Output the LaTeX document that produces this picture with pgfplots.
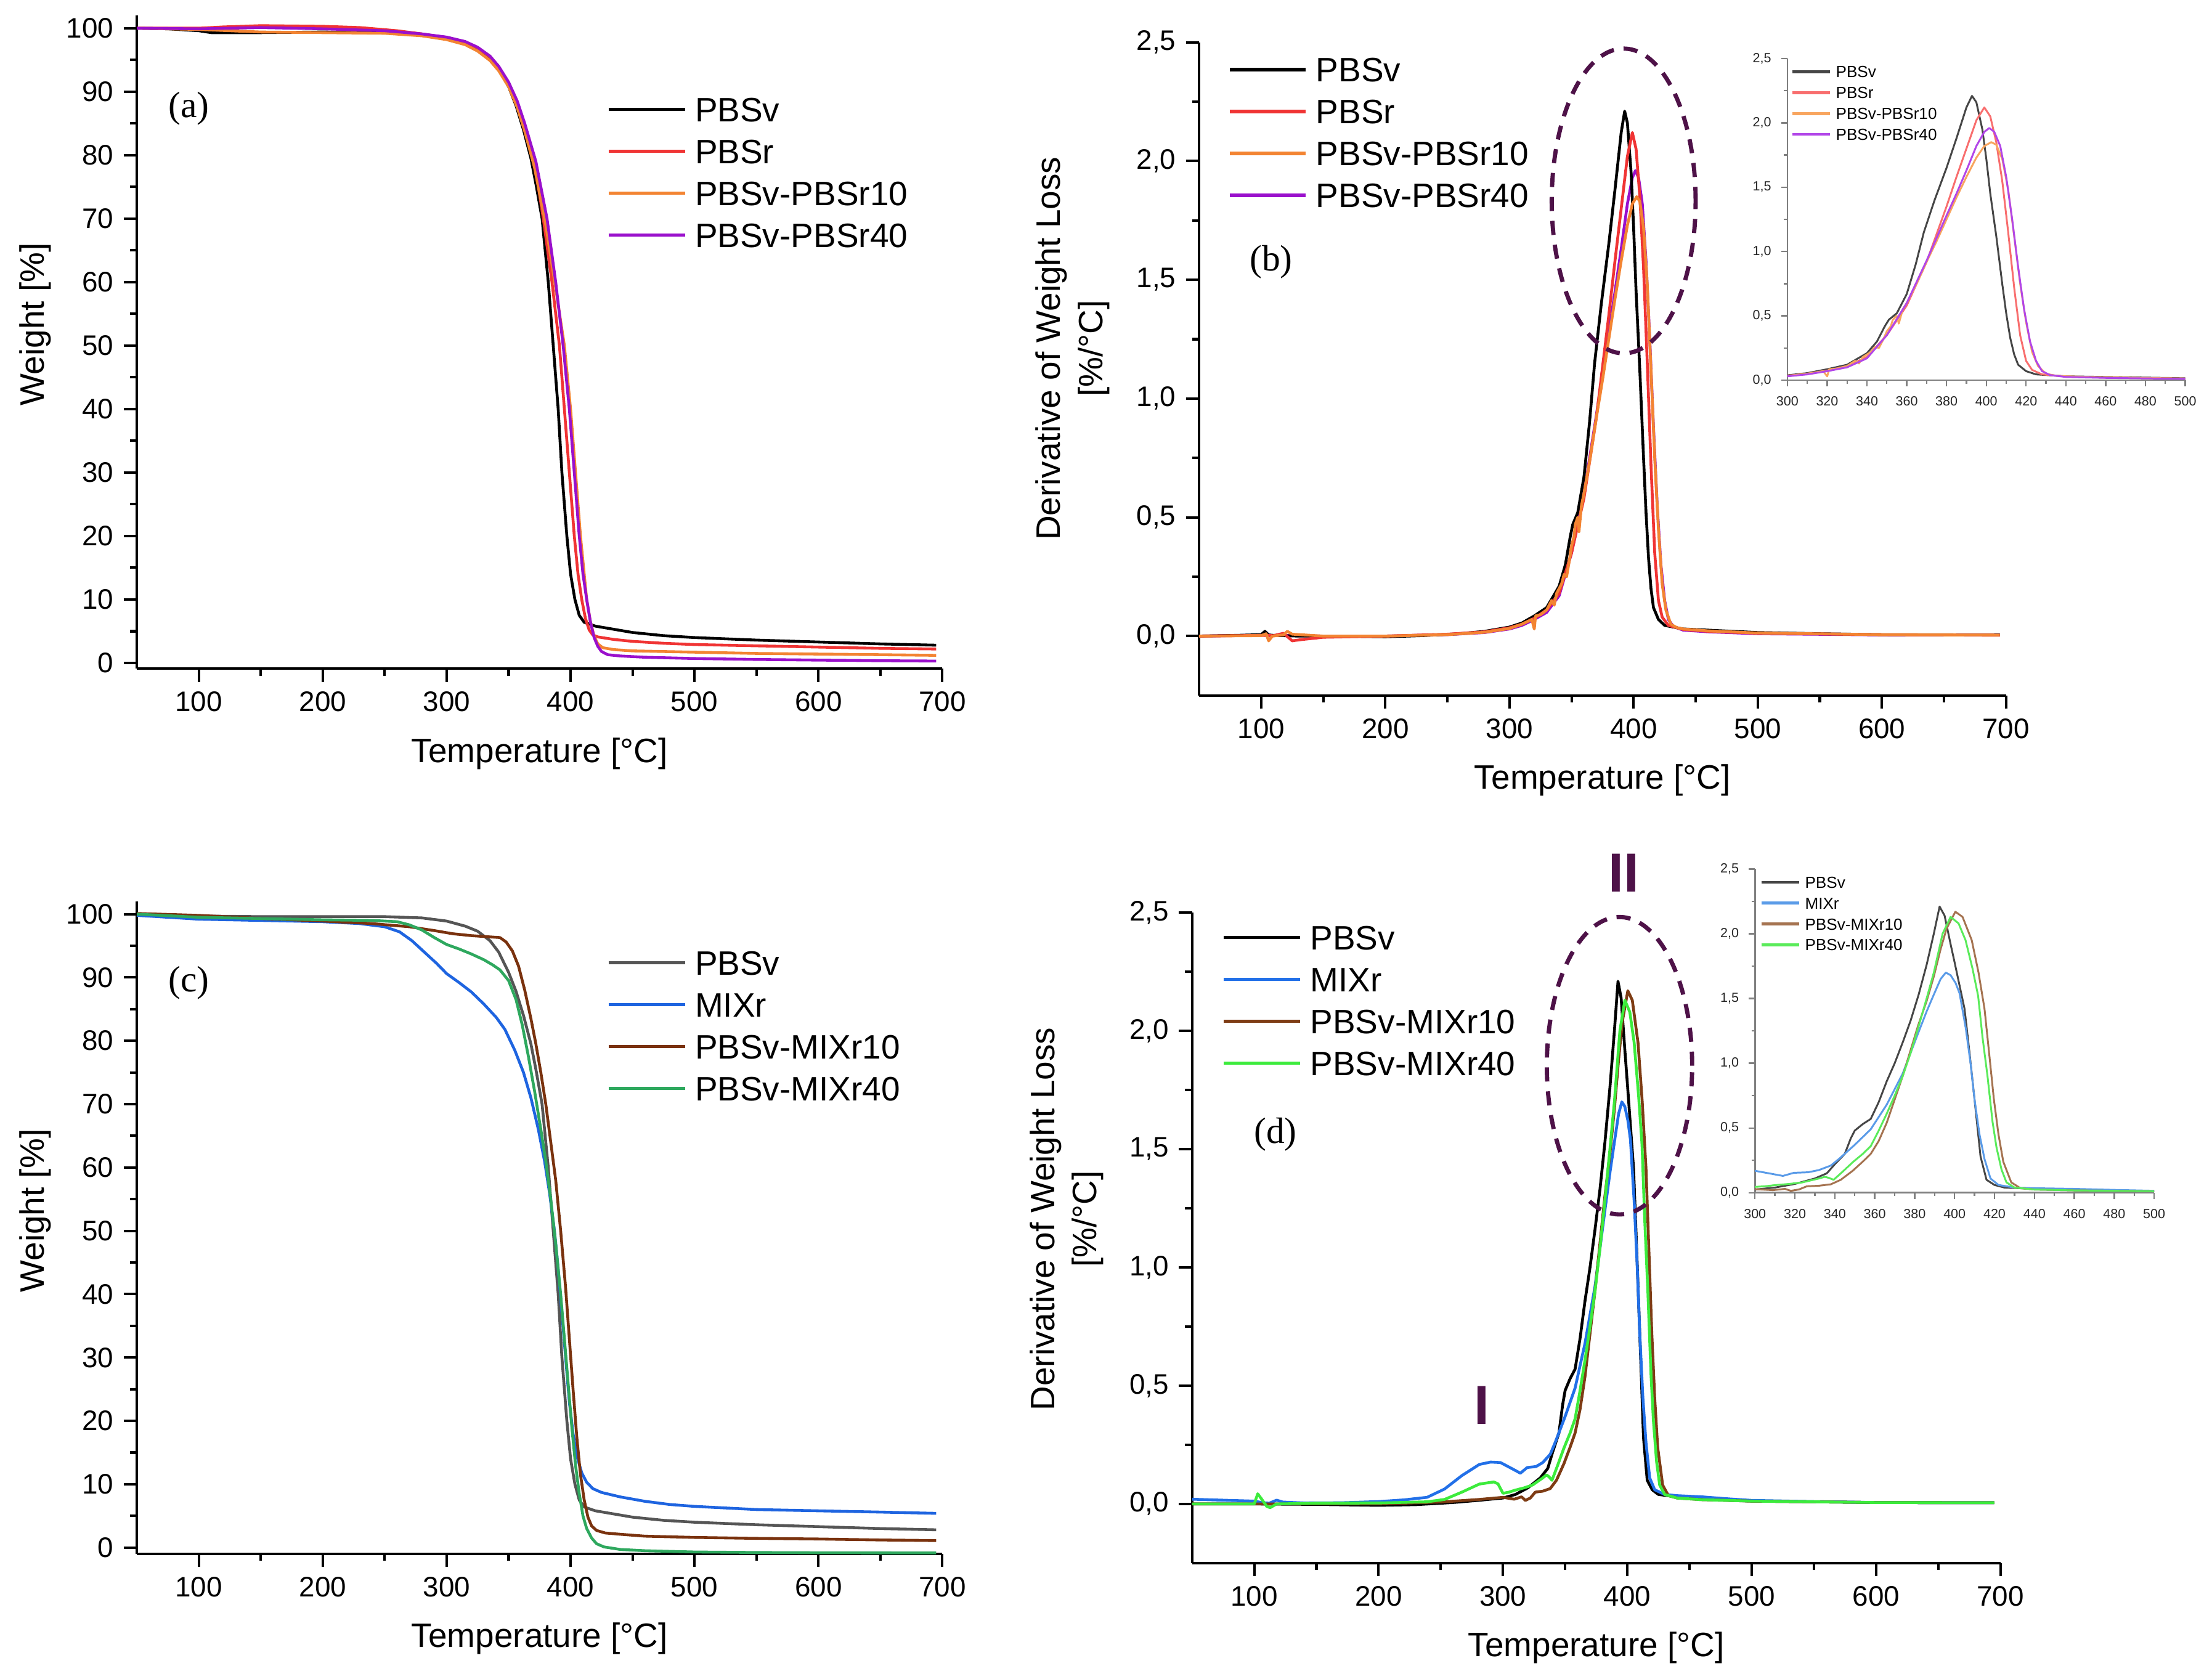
\documentclass[border=0pt]{standalone}
\usepackage{pgfplots}
\pgfplotsset{compat=1.18}
\usepackage{pgfplotstable}
\usepackage{fontspec}
\setmainfont{Liberation Sans}
\newfontfamily\serifpanel{Liberation Serif}

\definecolor{cred}{RGB}{240,52,52}
\definecolor{corange}{RGB}{243,132,50}
\definecolor{cpurple}{RGB}{154,16,204}
\definecolor{cgray}{RGB}{85,85,85}
\definecolor{cblue}{RGB}{30,100,224}
\definecolor{cbrown}{RGB}{122,50,14}
\definecolor{cgreenc}{RGB}{46,168,94}
\definecolor{cgreend}{RGB}{60,235,60}
\definecolor{cblued}{RGB}{34,112,232}
\definecolor{cbrownd}{RGB}{126,60,20}
\definecolor{ellc}{RGB}{78,18,72}
\definecolor{iblack}{RGB}{70,70,70}
\definecolor{ired}{RGB}{248,110,110}
\definecolor{iorange}{RGB}{248,165,95}
\definecolor{ipurple}{RGB}{178,70,232}
\definecolor{iblue}{RGB}{90,155,232}
\definecolor{ibrown}{RGB}{165,115,80}
\definecolor{igreen}{RGB}{90,235,90}

% ---------- TGA data (a) ----------
\pgfplotstableread{
x y
50 100
75 99.9
100 99.6
110 99.3
150 99.3
200 99.4
250 99.3
280 98.9
300 98.3
315 97.6
325 96.7
335 95.2
342 93.5
350 90.8
356 87.8
362 84
368 79.5
372 75.5
377 70
382 60
386 50
390 40
393 30
397 20
400 14
403.5 10
407 7.5
411 6.4
420 5.8
435 5.3
450 4.8
475 4.3
500 4.0
550 3.6
600 3.3
650 3.0
695 2.8
}\TaPBSv
\pgfplotstableread{
x y
50 100
75 100
100 100
120 100.2
150 100.4
200 100.3
230 100.1
260 99.6
280 99.1
300 98.5
315 97.8
325 96.9
335 95.5
342 93.8
350 91.2
356 88.2
362 84.5
369 80
374 75
378 70
385 60
391 50
395 40
399 30
403 20
406 14
409 10
412 7
415 5.2
418 4.4
422 4.1
435 3.7
450 3.4
475 3.1
500 2.9
550 2.7
600 2.5
650 2.3
695 2.2
}\TaPBSr
\pgfplotstableread{
x y
50 100
100 99.8
150 99.4
200 99.3
250 99.2
280 98.8
300 98.2
315 97.4
325 96.4
335 94.9
342 93.3
350 90.8
357 87.5
363 83.8
371 78
376 73
380 69
388 59
395 50
400 40
404 30
408 20
411 14
413 10
416 6.5
419 4.2
422 3.0
426 2.4
435 2.1
450 1.9
475 1.8
500 1.7
550 1.5
600 1.4
650 1.3
695 1.2
}\TaPBSrX
\pgfplotstableread{
x y
50 100
100 99.9
150 100.1
200 99.9
250 99.6
280 99.1
300 98.6
315 97.9
325 97.0
335 95.6
342 94.0
350 91.5
357 88.5
363 85
372 79
376 75
381 70
388 60
394 50
399 40
403 30
407 20
410 14
413 10
416 6.5
419 4
422 2.6
425 1.8
430 1.3
440 1.1
460 0.9
500 0.7
550 0.55
600 0.45
650 0.35
695 0.3
}\TaPBSrXL

% ---------- TGA data (c) ----------
\pgfplotstableread{
x y
50 100
75 99.9
100 99.7
150 99.6
200 99.6
250 99.6
280 99.4
300 98.9
315 98.1
325 97.3
335 95.8
342 94
350 90.8
356 87.8
362 84
368 79.5
372 75.5
377 70
382 60
386 50
390 40
393 30
397 20
400 14
403.5 10
407 7.5
411 6.4
420 5.8
435 5.3
450 4.8
475 4.3
500 4.0
550 3.6
600 3.3
650 3.0
695 2.8
}\TcPBSv
\pgfplotstableread{
x y
50 99.8
75 99.5
100 99.2
150 99.0
200 98.8
230 98.5
250 98.0
262 97.2
272 95.8
282 94.0
292 92.2
300 90.6
310 89.2
320 87.7
330 85.8
340 83.7
347 81.8
355 78.5
362 75
368 71
374 66
379 61
383 56
387 50
390 44
393 37
396 30
399 23
402 18
405 14.5
409 11.8
413 10.3
418 9.3
425 8.7
440 8.0
460 7.3
480 6.8
500 6.5
550 6.0
600 5.8
650 5.6
695 5.4
}\TcMIXr
\pgfplotstableread{
x y
50 100.1
100 99.8
150 99.3
200 98.9
240 98.5
270 98.0
290 97.4
305 96.9
320 96.6
335 96.4
343 96.3
348 95.6
353 94.2
358 91.8
363 88
368 83.5
372 79.5
376 75
380 70
384 64
388 58
392 50
396 41
399 33
402 25
405 17.5
408 11.5
411 7.5
414 4.8
417 3.4
421 2.7
428 2.3
440 2.1
460 1.8
500 1.6
550 1.45
600 1.35
650 1.2
695 1.1
}\TcMIXrX
\pgfplotstableread{
x y
50 100
100 99.5
150 99.3
200 99.1
240 99.0
260 98.8
270 98.3
280 97.5
290 96.3
300 95.2
310 94.5
320 93.7
330 92.8
337 92.0
343 91.2
350 89.5
356 86.5
361 82.5
366 77.5
371 72
376 66
380 61
384 55
388 48
392 40
395 33
398 26
401 19
404 13
407 8.5
410 5
413 3
417 1.5
421 0.6
427 0.1
440 -0.3
460 -0.5
500 -0.7
550 -0.78
600 -0.82
695 -0.85
}\TcMIXrXL

% ---------- DTG data (b) ----------
\pgfplotstableread{
x y
50 0.0
80 0.003
100 0.006
103 0.02
106 0.005
110 0.003
130 0.0
160 0.0
200 -0.003
230 0.002
260 0.01
280 0.02
300 0.038
310 0.055
320 0.085
330 0.12
340 0.21
345 0.3
349 0.42
351 0.47
355 0.52
360 0.67
364.5 0.9
368.6 1.15
374 1.4
380 1.65
385 1.88
390 2.12
392.8 2.21
395 2.16
398 1.95
400 1.72
402 1.45
405 1.12
408 0.75
410 0.52
412 0.33
414 0.2
416 0.12
420 0.07
425 0.045
430 0.04
440 0.03
460 0.025
500 0.015
550 0.01
600 0.006
695 0.005
}\TbPBSv
\pgfplotstableread{
x y
50 0
100 0.003
110 0.002
118 0.012
125 -0.02
132 -0.015
150 -0.005
200 0.0
250 0.008
280 0.018
300 0.035
310 0.05
320 0.075
330 0.11
340 0.18
350 0.35
360 0.58
370 0.92
380 1.35
385 1.58
390 1.8
395 2.02
399 2.12
402 2.05
405 1.85
408 1.55
411 1.15
414 0.72
417 0.35
420 0.15
423 0.08
428 0.045
440 0.028
460 0.02
500 0.012
600 0.006
695 0.004
}\TbPBSr
\pgfplotstableread{
x y
50 0
100 0.002
104 0.01
106 -0.02
109 0.0
118 0.005
121 0.02
125 0.008
150 0.0
200 0.0
250 0.006
280 0.016
300 0.032
310 0.05
318 0.07
320 0.03
321 0.085
325 0.09
330 0.11
334 0.15
336 0.13
338 0.18
340 0.2
342 0.22
344 0.26
346 0.25
348 0.31
350 0.38
352 0.42
353 0.47
355 0.5
356 0.44
358 0.55
360 0.6
365 0.75
370 0.92
375 1.08
380 1.25
385 1.42
390 1.58
395 1.73
399 1.82
402.5 1.85
405 1.83
408 1.72
411 1.48
414 1.12
417 0.75
420 0.45
423 0.22
426 0.11
430 0.05
435 0.035
440 0.03
460 0.022
500 0.013
600 0.006
695 0.004
}\TbPBSrX
\pgfplotstableread{
x y
50 0
100 0.004
104 0.015
107 0.0
112 0.003
150 0.0
200 0.0
250 0.006
280 0.015
300 0.03
310 0.045
320 0.07
330 0.1
340 0.17
350 0.35
360 0.6
370 0.93
380 1.28
385 1.45
390 1.63
395 1.82
399 1.93
401.5 1.96
404 1.93
407 1.82
410 1.58
413 1.25
416 0.88
419 0.55
422 0.3
425 0.15
428 0.07
432 0.04
440 0.025
460 0.018
500 0.01
600 0.005
695 0.004
}\TbPBSrXL

% ---------- DTG data (d) ----------
\pgfplotstableread{
x y
50 0.0
100 0.0
150 -0.002
200 -0.006
230 -0.003
260 0.006
280 0.015
300 0.025
310 0.04
320 0.068
330 0.11
336 0.15
340 0.22
345 0.3
348 0.42
350 0.48
354 0.53
358 0.57
362 0.7
366 0.86
370 1.0
374 1.16
378 1.33
382 1.53
386 1.76
389.6 2.0
392.5 2.21
395 2.14
398 1.92
400 1.78
405 1.42
407.5 1.08
410 0.72
413 0.28
416 0.1
420 0.06
425 0.04
440 0.03
460 0.02
500 0.012
600 0.006
695 0.005
}\TdPBSv
\pgfplotstableread{
x y
50 0.02
80 0.015
100 0.012
106 0.006
112 0.003
118 0.016
123 0.008
140 0.004
170 0.005
200 0.01
220 0.017
239 0.028
253 0.063
267 0.12
281 0.167
290 0.177
298 0.175
307 0.15
314 0.13
319.5 0.154
326.6 0.158
332 0.175
338 0.21
342 0.26
350 0.37
358 0.49
366 0.68
374 0.92
381.7 1.23
386 1.4
389.6 1.53
393 1.65
395.6 1.7
398 1.68
400.5 1.62
402.5 1.54
405.6 1.27
408 1.0
410 0.72
412.5 0.45
415 0.26
418 0.11
422 0.06
430 0.04
440 0.035
460 0.03
480 0.022
500 0.015
550 0.01
600 0.006
695 0.005
}\TdMIXr
\pgfplotstableread{
x y
50 0.0
100 0.0
150 0.0
200 0.0
250 0.008
281 0.019
300 0.028
309 0.02
315 0.03
318 0.015
322 0.025
326 0.05
332 0.054
338 0.065
343 0.1
349 0.17
354 0.24
358 0.3
362 0.4
366 0.54
370 0.72
374 0.9
381.7 1.29
386 1.48
389.6 1.67
393 1.88
396 2.04
400.4 2.17
404 2.13
408.6 1.95
412 1.7
415 1.42
417.5 1.05
419.7 0.72
422 0.45
424.4 0.24
428.4 0.08
433 0.035
440 0.025
460 0.018
500 0.012
600 0.006
695 0.005
}\TdMIXrX
\pgfplotstableread{
x y
50 0.0
100 0.0
102.8 0.043
106 0.02
110 -0.01
112.7 -0.016
118 0.0
150 0.003
200 0.004
239 0.009
253 0.019
267 0.05
281 0.084
292.6 0.093
296 0.085
300 0.045
305 0.05
309.6 0.058
317 0.068
323.8 0.08
332 0.11
335 0.123
337 0.115
339.4 0.1
343.6 0.158
349 0.236
354 0.3
358 0.36
362 0.48
366 0.61
370 0.75
374 0.9
378 1.08
381.7 1.27
386 1.5
389.6 1.7
394 2.0
398 2.13
402 2.08
405.5 1.95
409 1.73
411.8 1.52
414 1.2
416.5 0.9
419 0.55
421 0.35
423.5 0.18
426 0.08
430 0.04
440 0.025
460 0.018
500 0.012
600 0.006
695 0.005
}\TdMIXrXL

\pgfplotsset{
  mainax/.style={
    scale only axis, axis lines*=left, clip=false,
    xmin=50, xmax=700, xtick={100,200,...,700}, minor x tick num=1,
    tick align=outside, major tick length=4.7pt, minor tick length=2.5pt,
    axis line style={line width=0.9pt},
    tick style={black, line width=0.9pt},
    tick label style={font=\fontsize{10}{12}\selectfont},
    /pgf/number format/assume math mode=true,
    xlabel={Temperature [°C]},
    label style={font=\fontsize{12}{15}\selectfont},
    xlabel style={at={(axis description cs:0.5,-0.13)}, anchor=center},
    legend cell align=left,
    legend image code/.code={\draw[##1, line width=1.2pt] (0pt,0pt) -- (27pt,0pt);},
    legend style={draw=none, fill=none, inner sep=0pt, row sep=4.25pt, column sep=2pt,
      font=\fontsize{12}{14}\selectfont,
      nodes={inner sep=1pt, text height=8.6pt, text depth=0pt}, anchor=north west},
    every axis plot/.append style={line width=1pt, no marks, line join=round},
  },
  dtgax/.style={
    ymin=-0.25, ymax=2.5, ytick={0,0.5,...,2.5}, minor y tick num=1,
    yticklabel style={/pgf/number format/.cd, fixed, fixed zerofill, precision=1, use comma},
  },
  insetax/.style={
    scale only axis, axis lines*=left, clip=true,
    xmin=300, xmax=500, ymin=0, ymax=2.5,
    xtick={300,320,...,500}, minor x tick num=1,
    ytick={0,0.5,...,2.5}, minor y tick num=1,
    tick align=outside, major tick length=2.2pt, minor tick length=1.2pt,
    axis line style={line width=0.6pt, gray},
    tick style={line width=0.5pt, gray},
    tick label style={font=\fontsize{4.7}{5}\selectfont, text=black!85},
    yticklabel style={/pgf/number format/.cd, fixed, fixed zerofill, precision=1, use comma},
    /pgf/number format/assume math mode=true,
    legend cell align=left,
    legend image code/.code={\draw[##1, line width=1pt] (0pt,0pt) -- (13.5pt,0pt);},
    legend style={draw=none, fill=none, inner sep=0pt, row sep=2.3pt, column sep=1pt,
      font=\fontsize{5.7}{6.5}\selectfont,
      nodes={inner sep=0.5pt, text height=4.1pt, text depth=0pt}, anchor=north west},
    every axis plot/.append style={line width=0.65pt, no marks, line join=round},
  },
}

\begin{document}
\begin{tikzpicture}
\useasboundingbox (0,0) rectangle (784pt,595pt);

% ===== (a) =====
\begin{axis}[mainax, at={(48.5pt,358pt)}, anchor=south west,
  width=285.5pt, height=231.5pt, ymin=-0.9, ymax=102,
  ytick={0,10,...,100}, minor y tick num=1,
  ylabel={Weight [\%]},
  ylabel style={at={(axis description cs:-0.126,0.527)}, anchor=center},
  legend style={at={(0.583,0.880)}}]
\addplot[black] table {\TaPBSv};
\addplot[cred] table {\TaPBSr};
\addplot[corange] table {\TaPBSrX};
\addplot[cpurple] table {\TaPBSrXL};
\legend{PBSv, PBSr, PBSv-PBSr10, PBSv-PBSr40}
\node[font=\serifpanel\fontsize{13}{15}\selectfont] at (axis cs:92,87.3) {(a)};
\end{axis}

% ===== (b) =====
\begin{axis}[mainax, dtgax, at={(425pt,348.5pt)}, anchor=south west,
  width=286pt, height=231.5pt,
  ylabel={Derivative of Weight Loss\\{[\%/°C]}},
  ylabel style={at={(axis description cs:-0.157,0.531)}, anchor=center, align=center},
  legend style={at={(0.035,0.982)}}]
\addplot[cpurple, forget plot] table {\TbPBSrXL};
\addplot[black] table {\TbPBSv};
\addplot[cred] table {\TbPBSr};
\addplot[corange] table {\TbPBSrX};
\addlegendimage{cpurple, line width=1pt}
\legend{PBSv, PBSr, PBSv-PBSr10, PBSv-PBSr40}
\node[font=\serifpanel\fontsize{13}{15}\selectfont] at (axis cs:108,1.574) {(b)};
\draw[ellc, line width=1.5pt, dash pattern=on 5pt off 3.5pt] (axis cs:392,1.832) ellipse [x radius=25.5pt, y radius=54pt];
\end{axis}

% ===== (c) =====
\begin{axis}[mainax, at={(48.5pt,44.25pt)}, anchor=south west,
  width=285.5pt, height=231.25pt, ymin=-1, ymax=102,
  ytick={0,10,...,100}, minor y tick num=1,
  ylabel={Weight [\%]},
  ylabel style={at={(axis description cs:-0.126,0.526)}, anchor=center},
  legend style={at={(0.583,0.930)}}]
\addplot[cgray] table {\TcPBSv};
\addplot[cblue] table {\TcMIXr};
\addplot[cbrown] table {\TcMIXrX};
\addplot[cgreenc] table {\TcMIXrXL};
\legend{PBSv, MIXr, PBSv-MIXr10, PBSv-MIXr40}
\node[font=\serifpanel\fontsize{13}{15}\selectfont] at (axis cs:92,89.1) {(c)};
\end{axis}

% ===== (d) =====
\begin{axis}[mainax, dtgax, at={(422.5pt,41pt)}, anchor=south west,
  width=286.5pt, height=230.5pt,
  ylabel={Derivative of Weight Loss\\{[\%/°C]}},
  ylabel style={at={(axis description cs:-0.155,0.529)}, anchor=center, align=center},
  legend style={at={(0.0367,0.986)}}]
\addplot[black] table {\TdPBSv};
\addplot[cblued] table {\TdMIXr};
\addplot[cbrownd] table {\TdMIXrX};
\addplot[cgreend] table {\TdMIXrXL};
\legend{PBSv, MIXr, PBSv-MIXr10, PBSv-MIXr40}
\node[font=\serifpanel\fontsize{13}{15}\selectfont] at (axis cs:117,1.563) {(d)};
\draw[ellc, line width=1.5pt, dash pattern=on 5pt off 3.5pt] (axis cs:393.7,1.853) ellipse [x radius=25.75pt, y radius=52.7pt];
\node[ellc, font=\fontsize{19.5}{20}\selectfont\bfseries] at (axis cs:397,2.667) {II};
\node[ellc, font=\fontsize{19.5}{20}\selectfont\bfseries] at (axis cs:283,0.418) {I};
\end{axis}

% ===== inset (b) =====
\begin{axis}[insetax, at={(633.5pt,460.25pt)}, anchor=south west,
  width=141pt, height=114pt,
  legend style={at={(0.007,0.983)}}]
\addplot[iblack] table {\TbPBSv};
\addplot[ired] table {\TbPBSr};
\addplot[iorange] table {\TbPBSrX};
\addplot[ipurple] table {\TbPBSrXL};
\legend{PBSv, PBSr, PBSv-PBSr10, PBSv-PBSr40}
\end{axis}

% ===== inset (d) =====
\begin{axis}[insetax, at={(622pt,172.25pt)}, anchor=south west,
  width=141.5pt, height=114.75pt,
  legend style={at={(0.011,0.983)}}]
\addplot[iblack] table {\TdPBSv};
\addplot[iblue] table {\TdMIXr};
\addplot[ibrown] table {\TdMIXrX};
\addplot[igreen] table {\TdMIXrXL};
\legend{PBSv, MIXr, PBSv-MIXr10, PBSv-MIXr40}
\end{axis}

\end{tikzpicture}
\end{document}
